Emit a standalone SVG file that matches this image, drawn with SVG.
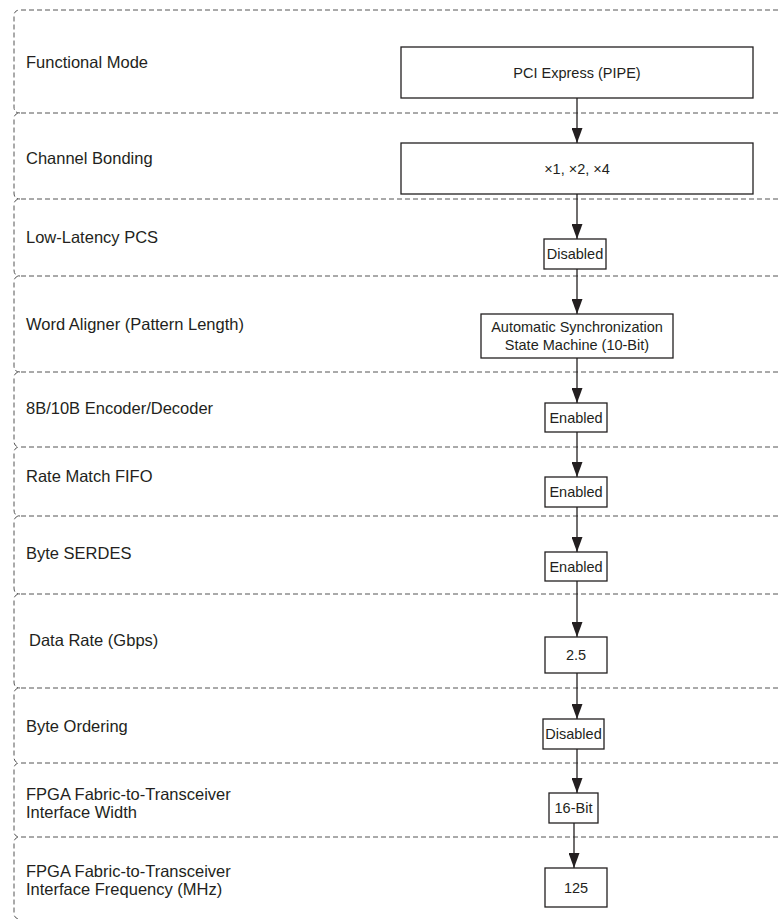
<svg xmlns="http://www.w3.org/2000/svg" width="778" height="919" viewBox="0 0 778 919">
<defs>
<style>
.lane{fill:none;stroke:#555;stroke-width:1;stroke-dasharray:5 3}
.lbl{font-family:"Liberation Sans",Arial,Helvetica,sans-serif;font-size:16.5px;fill:#231f20}
.box{fill:#fff;stroke:#231f20;stroke-width:1.3}
.bt{font-family:"Liberation Sans",Arial,Helvetica,sans-serif;font-size:14.5px;fill:#231f20;text-anchor:middle}
.conn{stroke:#231f20;stroke-width:1.3;fill:none}
</style>
<marker id="ah" viewBox="0 0 10 15" refX="10" refY="5" markerWidth="15" markerHeight="10" markerUnits="userSpaceOnUse" orient="auto">
<path d="M0,0 L10,5 L0,10 Z" fill="#231f20"/>
</marker>
<marker id="arr" viewBox="0 0 15 11" refX="15" refY="5.5" markerWidth="15" markerHeight="11" markerUnits="userSpaceOnUse" orient="auto">
<path d="M0,0 L15,5.5 L0,11 Z" fill="#231f20"/>
</marker>
</defs>
<rect width="778" height="919" fill="#fff"/>
<g id="lanes">
<g id="lane-functional-mode"><path class="lane" d="M778,10 H20 Q14,10 14,16 V107 Q14,113 20,113"/><text class="lbl" x="26" y="68">Functional Mode</text></g>
<g id="lane-channel-bonding"><path class="lane" d="M778,113 H20 Q14,113 14,119 V193 Q14,199 20,199"/><text class="lbl" x="26" y="164">Channel Bonding</text></g>
<g id="lane-low-latency"><path class="lane" d="M778,199 H20 Q14,199 14,205 V270 Q14,276 20,276"/><text class="lbl" x="26" y="243">Low-Latency PCS</text></g>
<g id="lane-word-aligner"><path class="lane" d="M778,276 H20 Q14,276 14,282 V366 Q14,372 20,372"/><text class="lbl" x="26" y="330">Word Aligner (Pattern Length)</text></g>
<g id="lane-8b10b"><path class="lane" d="M778,372 H20 Q14,372 14,378 V441 Q14,447 20,447"/><text class="lbl" x="26" y="414">8B/10B Encoder/Decoder</text></g>
<g id="lane-rate-match"><path class="lane" d="M778,447 H20 Q14,447 14,453 V510 Q14,516 20,516"/><text class="lbl" x="26" y="482">Rate Match FIFO</text></g>
<g id="lane-byte-serdes"><path class="lane" d="M778,516 H20 Q14,516 14,522 V588 Q14,594 20,594"/><text class="lbl" x="26" y="559">Byte SERDES</text></g>
<g id="lane-data-rate"><path class="lane" d="M778,594 H20 Q14,594 14,600 V682 Q14,688 20,688"/><text class="lbl" x="29" y="646">Data Rate (Gbps)</text></g>
<g id="lane-byte-ordering"><path class="lane" d="M778,688 H20 Q14,688 14,694 V757 Q14,763 20,763"/><text class="lbl" x="26" y="732">Byte Ordering</text></g>
<g id="lane-width"><path class="lane" d="M778,763 H20 Q14,763 14,769 V831 Q14,837 20,837"/><text class="lbl" x="26" y="800">FPGA Fabric-to-Transceiver</text><text class="lbl" x="26" y="818">Interface Width</text></g>
<g id="lane-frequency"><path class="lane" d="M778,837 H20 Q14,837 14,843 V913 Q14,919 20,919"/><text class="lbl" x="26" y="877">FPGA Fabric-to-Transceiver</text><text class="lbl" x="26" y="895">Interface Frequency (MHz)</text></g>
</g>
<g id="connectors">
<line class="conn" x1="577" y1="98" x2="577" y2="143" marker-end="url(#arr)"/>
<line class="conn" x1="577" y1="194" x2="577" y2="239" marker-end="url(#arr)"/>
<line class="conn" x1="577" y1="269" x2="577" y2="314" marker-end="url(#arr)"/>
<line class="conn" x1="577" y1="358" x2="577" y2="403" marker-end="url(#arr)"/>
<line class="conn" x1="577" y1="432" x2="577" y2="477" marker-end="url(#arr)"/>
<line class="conn" x1="577" y1="507" x2="577" y2="552" marker-end="url(#arr)"/>
<line class="conn" x1="577" y1="581" x2="577" y2="637" marker-end="url(#arr)"/>
<line class="conn" x1="577" y1="673" x2="577" y2="719" marker-end="url(#arr)"/>
<line class="conn" x1="577" y1="749" x2="577" y2="793" marker-end="url(#arr)"/>
<line class="conn" x1="574" y1="823" x2="574" y2="868" marker-end="url(#arr)"/>
</g>
<g id="node-pci"><rect class="box" x="401" y="47" width="352" height="51"/><text class="bt" x="577" y="78">PCI Express (PIPE)</text></g>
<g id="node-bonding"><rect class="box" x="401" y="143" width="352" height="51"/><text class="bt" x="577" y="174">×1, ×2, ×4</text></g>
<g id="node-lowlatency"><rect class="box" x="544" y="239" width="62" height="30"/><text class="bt" x="575" y="259">Disabled</text></g>
<g id="node-wordaligner"><rect class="box" x="481" y="314" width="192" height="44"/><text class="bt" x="577" y="332">Automatic Synchronization</text><text class="bt" x="577" y="350">State Machine (10-Bit)</text></g>
<g id="node-8b10b"><rect class="box" x="545" y="403" width="62" height="29"/><text class="bt" x="576" y="423">Enabled</text></g>
<g id="node-ratematch"><rect class="box" x="545" y="477" width="62" height="30"/><text class="bt" x="576" y="497">Enabled</text></g>
<g id="node-byteserdes"><rect class="box" x="545" y="552" width="62" height="29"/><text class="bt" x="576" y="572">Enabled</text></g>
<g id="node-datarate"><rect class="box" x="545" y="637" width="62" height="36"/><text class="bt" x="576" y="660">2.5</text></g>
<g id="node-byteordering"><rect class="box" x="543" y="719" width="61" height="30"/><text class="bt" x="573.5" y="739">Disabled</text></g>
<g id="node-width"><rect class="box" x="549" y="793" width="49" height="30"/><text class="bt" x="573.5" y="813">16-Bit</text></g>
<g id="node-frequency"><rect class="box" x="545" y="868" width="62" height="39"/><text class="bt" x="576" y="893">125</text></g>
</svg>
